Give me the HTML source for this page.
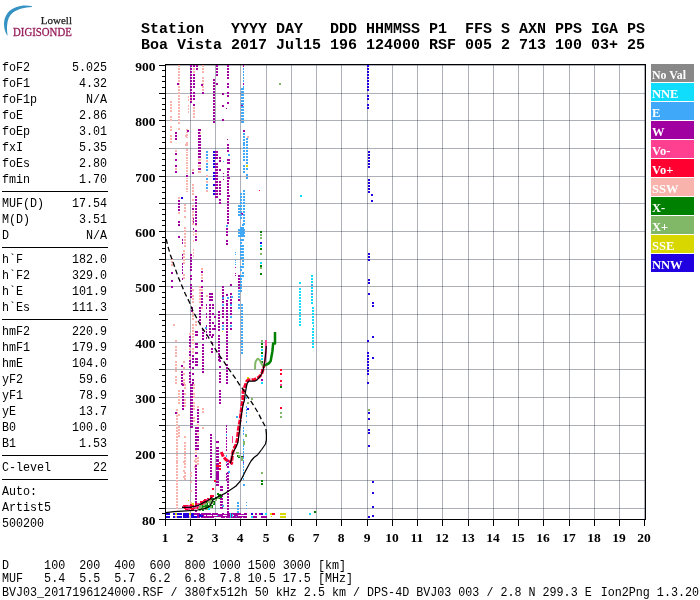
<!DOCTYPE html>
<html><head><meta charset="utf-8"><title>Ionogram BVJ03 2017196124000</title>
<style>
html,body{margin:0;padding:0;background:#fff;width:700px;height:600px;overflow:hidden}
svg{display:block}
text{white-space:pre}
.mono{font-family:"Liberation Mono",monospace;font-size:13px;fill:#000}
.hdr{font-family:"Liberation Mono",monospace;font-size:14px;font-weight:bold;fill:#000}
.ax{font-family:"Liberation Serif",serif;font-size:13.5px;font-weight:bold;fill:#000}
.leg{font-family:"Liberation Serif",serif;font-size:12.5px;font-weight:bold;fill:#fff}
</style></head><body>
<svg width="700" height="600" viewBox="0 0 700 600">
<rect width="700" height="600" fill="#fff"/>
<!-- logo -->
<path d="M31.8 6.1 C24 4.3 13.5 6 8 12.5 C4.6 16.5 3.7 21.5 4.1 26 C4.5 30 5.8 33.5 7.6 36 C7.2 33 6.8 29 7.1 25.3 C7.4 20 9.2 15.5 13 12.5 C18 8.7 25 7.2 31.8 6.9 Z" fill="#3592c2"/>
<text x="72" y="23.8" text-anchor="end" style="font-family:'Liberation Serif',serif;font-size:11px;fill:#222;stroke:#222;stroke-width:0.25">Lowell</text>
<text x="13" y="36.3" textLength="58.8" lengthAdjust="spacingAndGlyphs" style="font-family:'Liberation Serif',serif;font-size:11.5px;fill:#961e5c;stroke:#961e5c;stroke-width:0.3">DIGISONDE</text>
<!-- header -->
<text class="hdr" x="141" y="33" xml:space="preserve" textLength="504" lengthAdjust="spacingAndGlyphs">Station   YYYY DAY   DDD HHMMSS P1  FFS S AXN PPS IGA PS</text>
<text class="hdr" x="141" y="49" xml:space="preserve" textLength="504" lengthAdjust="spacingAndGlyphs">Boa Vista 2017 Jul15 196 124000 RSF 005 2 713 100 03+ 25</text>
<g class="mono">
<text x="2" y="71" textLength="28.1" lengthAdjust="spacingAndGlyphs">foF2</text>
<text x="107" y="71" text-anchor="end" textLength="35.1" lengthAdjust="spacingAndGlyphs">5.025</text>
<text x="2" y="87" textLength="28.1" lengthAdjust="spacingAndGlyphs">foF1</text>
<text x="107" y="87" text-anchor="end" textLength="28.1" lengthAdjust="spacingAndGlyphs">4.32</text>
<text x="2" y="103" textLength="35.1" lengthAdjust="spacingAndGlyphs">foF1p</text>
<text x="107" y="103" text-anchor="end" textLength="21.1" lengthAdjust="spacingAndGlyphs">N/A</text>
<text x="2" y="119" textLength="21.1" lengthAdjust="spacingAndGlyphs">foE</text>
<text x="107" y="119" text-anchor="end" textLength="28.1" lengthAdjust="spacingAndGlyphs">2.86</text>
<text x="2" y="135" textLength="28.1" lengthAdjust="spacingAndGlyphs">foEp</text>
<text x="107" y="135" text-anchor="end" textLength="28.1" lengthAdjust="spacingAndGlyphs">3.01</text>
<text x="2" y="151" textLength="21.1" lengthAdjust="spacingAndGlyphs">fxI</text>
<text x="107" y="151" text-anchor="end" textLength="28.1" lengthAdjust="spacingAndGlyphs">5.35</text>
<text x="2" y="167" textLength="28.1" lengthAdjust="spacingAndGlyphs">foEs</text>
<text x="107" y="167" text-anchor="end" textLength="28.1" lengthAdjust="spacingAndGlyphs">2.80</text>
<text x="2" y="183" textLength="28.1" lengthAdjust="spacingAndGlyphs">fmin</text>
<text x="107" y="183" text-anchor="end" textLength="28.1" lengthAdjust="spacingAndGlyphs">1.70</text>
<text x="2" y="207" textLength="42.1" lengthAdjust="spacingAndGlyphs">MUF(D)</text>
<text x="107" y="207" text-anchor="end" textLength="35.1" lengthAdjust="spacingAndGlyphs">17.54</text>
<text x="2" y="223" textLength="28.1" lengthAdjust="spacingAndGlyphs">M(D)</text>
<text x="107" y="223" text-anchor="end" textLength="28.1" lengthAdjust="spacingAndGlyphs">3.51</text>
<text x="2" y="239" textLength="7" lengthAdjust="spacingAndGlyphs">D</text>
<text x="107" y="239" text-anchor="end" textLength="21.1" lengthAdjust="spacingAndGlyphs">N/A</text>
<text x="2" y="263" textLength="21.1" lengthAdjust="spacingAndGlyphs">h`F</text>
<text x="107" y="263" text-anchor="end" textLength="35.1" lengthAdjust="spacingAndGlyphs">182.0</text>
<text x="2" y="279" textLength="28.1" lengthAdjust="spacingAndGlyphs">h`F2</text>
<text x="107" y="279" text-anchor="end" textLength="35.1" lengthAdjust="spacingAndGlyphs">329.0</text>
<text x="2" y="295" textLength="21.1" lengthAdjust="spacingAndGlyphs">h`E</text>
<text x="107" y="295" text-anchor="end" textLength="35.1" lengthAdjust="spacingAndGlyphs">101.9</text>
<text x="2" y="311" textLength="28.1" lengthAdjust="spacingAndGlyphs">h`Es</text>
<text x="107" y="311" text-anchor="end" textLength="35.1" lengthAdjust="spacingAndGlyphs">111.3</text>
<text x="2" y="335" textLength="28.1" lengthAdjust="spacingAndGlyphs">hmF2</text>
<text x="107" y="335" text-anchor="end" textLength="35.1" lengthAdjust="spacingAndGlyphs">220.9</text>
<text x="2" y="351" textLength="28.1" lengthAdjust="spacingAndGlyphs">hmF1</text>
<text x="107" y="351" text-anchor="end" textLength="35.1" lengthAdjust="spacingAndGlyphs">179.9</text>
<text x="2" y="367" textLength="21.1" lengthAdjust="spacingAndGlyphs">hmE</text>
<text x="107" y="367" text-anchor="end" textLength="35.1" lengthAdjust="spacingAndGlyphs">104.0</text>
<text x="2" y="383" textLength="21.1" lengthAdjust="spacingAndGlyphs">yF2</text>
<text x="107" y="383" text-anchor="end" textLength="28.1" lengthAdjust="spacingAndGlyphs">59.6</text>
<text x="2" y="399" textLength="21.1" lengthAdjust="spacingAndGlyphs">yF1</text>
<text x="107" y="399" text-anchor="end" textLength="28.1" lengthAdjust="spacingAndGlyphs">78.9</text>
<text x="2" y="415" textLength="14" lengthAdjust="spacingAndGlyphs">yE</text>
<text x="107" y="415" text-anchor="end" textLength="28.1" lengthAdjust="spacingAndGlyphs">13.7</text>
<text x="2" y="431" textLength="14" lengthAdjust="spacingAndGlyphs">B0</text>
<text x="107" y="431" text-anchor="end" textLength="35.1" lengthAdjust="spacingAndGlyphs">100.0</text>
<text x="2" y="447" textLength="14" lengthAdjust="spacingAndGlyphs">B1</text>
<text x="107" y="447" text-anchor="end" textLength="28.1" lengthAdjust="spacingAndGlyphs">1.53</text>
<text x="2" y="471" textLength="49.1" lengthAdjust="spacingAndGlyphs">C-level</text>
<text x="107" y="471" text-anchor="end" textLength="14" lengthAdjust="spacingAndGlyphs">22</text>
<text x="2" y="495" textLength="35.1" lengthAdjust="spacingAndGlyphs">Auto:</text>
<text x="2" y="511" textLength="49.1" lengthAdjust="spacingAndGlyphs">Artist5</text>
<text x="2" y="527" textLength="42.1" lengthAdjust="spacingAndGlyphs">500200</text>
<rect x="2" y="191" width="106" height="1" fill="#000"/>
<rect x="2" y="247" width="106" height="1" fill="#000"/>
<rect x="2" y="319" width="106" height="1" fill="#000"/>
<rect x="2" y="455" width="106" height="1" fill="#000"/>
<rect x="2" y="479" width="106" height="1" fill="#000"/>
<text x="2" y="569" xml:space="preserve" textLength="344" lengthAdjust="spacingAndGlyphs">D     100  200  400  600  800 1000 1500 3000 [km]</text>
<text x="2" y="582" xml:space="preserve" textLength="351" lengthAdjust="spacingAndGlyphs">MUF   5.4  5.5  5.7  6.2  6.8  7.8 10.5 17.5 [MHz]</text>
<text x="2" y="596" xml:space="preserve" textLength="589.7" lengthAdjust="spacingAndGlyphs">BVJ03_2017196124000.RSF / 380fx512h 50 kHz 2.5 km / DPS-4D BVJ03 003 / 2.8 N 299.3 E</text>
<text x="600.7" y="596" textLength="98.3" lengthAdjust="spacingAndGlyphs">Ion2Png 1.3.20</text>
</g>
<g shape-rendering="crispEdges">
<rect x="190" y="65" width="1" height="454" fill="#323750" fill-opacity="0.4"/>
<rect x="215" y="65" width="1" height="454" fill="#323750" fill-opacity="0.4"/>
<rect x="240" y="65" width="1" height="454" fill="#323750" fill-opacity="0.4"/>
<rect x="266" y="65" width="1" height="454" fill="#323750" fill-opacity="0.4"/>
<rect x="291" y="65" width="1" height="454" fill="#323750" fill-opacity="0.4"/>
<rect x="316" y="65" width="1" height="454" fill="#323750" fill-opacity="0.4"/>
<rect x="341" y="65" width="1" height="454" fill="#323750" fill-opacity="0.4"/>
<rect x="367" y="65" width="1" height="454" fill="#323750" fill-opacity="0.4"/>
<rect x="392" y="65" width="1" height="454" fill="#323750" fill-opacity="0.4"/>
<rect x="417" y="65" width="1" height="454" fill="#323750" fill-opacity="0.4"/>
<rect x="442" y="65" width="1" height="454" fill="#323750" fill-opacity="0.4"/>
<rect x="468" y="65" width="1" height="454" fill="#323750" fill-opacity="0.4"/>
<rect x="493" y="65" width="1" height="454" fill="#323750" fill-opacity="0.4"/>
<rect x="518" y="65" width="1" height="454" fill="#323750" fill-opacity="0.4"/>
<rect x="543" y="65" width="1" height="454" fill="#323750" fill-opacity="0.4"/>
<rect x="569" y="65" width="1" height="454" fill="#323750" fill-opacity="0.4"/>
<rect x="594" y="65" width="1" height="454" fill="#323750" fill-opacity="0.4"/>
<rect x="619" y="65" width="1" height="454" fill="#323750" fill-opacity="0.4"/>
<rect x="644" y="65" width="1" height="454" fill="#323750" fill-opacity="0.4"/>
<rect x="166" y="508" width="479" height="1" fill="#323750" fill-opacity="0.4"/>
<rect x="166" y="480" width="479" height="1" fill="#323750" fill-opacity="0.4"/>
<rect x="166" y="453" width="479" height="1" fill="#323750" fill-opacity="0.4"/>
<rect x="166" y="425" width="479" height="1" fill="#323750" fill-opacity="0.4"/>
<rect x="166" y="397" width="479" height="1" fill="#323750" fill-opacity="0.4"/>
<rect x="166" y="369" width="479" height="1" fill="#323750" fill-opacity="0.4"/>
<rect x="166" y="342" width="479" height="1" fill="#323750" fill-opacity="0.4"/>
<rect x="166" y="314" width="479" height="1" fill="#323750" fill-opacity="0.4"/>
<rect x="166" y="286" width="479" height="1" fill="#323750" fill-opacity="0.4"/>
<rect x="166" y="259" width="479" height="1" fill="#323750" fill-opacity="0.4"/>
<rect x="166" y="231" width="479" height="1" fill="#323750" fill-opacity="0.4"/>
<rect x="166" y="203" width="479" height="1" fill="#323750" fill-opacity="0.4"/>
<rect x="166" y="176" width="479" height="1" fill="#323750" fill-opacity="0.4"/>
<rect x="166" y="148" width="479" height="1" fill="#323750" fill-opacity="0.4"/>
<rect x="166" y="120" width="479" height="1" fill="#323750" fill-opacity="0.4"/>
<rect x="166" y="93" width="479" height="1" fill="#323750" fill-opacity="0.4"/>
<rect x="166" y="65" width="479" height="1" fill="#323750" fill-opacity="0.4"/>
</g>
<g shape-rendering="crispEdges">
<path fill="#f8b4ac" d="M178 65h2v2h-2zM178 68h2v2h-2zM178 71h2v2h-2zM178 74h2v2h-2zM178 77h2v2h-2zM178 80h2v2h-2zM178 83h2v2h-2zM178 86h2v2h-2zM178 89h2v2h-2zM178 92h2v2h-2zM178 95h2v2h-2zM178 98h2v2h-2zM178 101h2v2h-2zM178 104h2v2h-2zM178 107h2v2h-2zM178 110h2v2h-2zM178 113h2v2h-2zM178 116h2v2h-2zM178 119h2v2h-2zM178 122h2v2h-2zM178 128h2v2h-2zM170 101h2v2h-2zM170 104h2v2h-2zM170 107h2v2h-2zM170 110h2v2h-2zM170 116h2v2h-2zM170 119h2v2h-2zM170 126h2v2h-2zM170 129h2v2h-2zM170 135h2v2h-2zM170 138h2v2h-2zM170 141h2v2h-2zM193 68h2v2h-2zM193 71h2v2h-2zM193 107h2v2h-2zM193 110h2v2h-2zM193 113h2v2h-2zM193 116h2v2h-2zM188 96h1v2h-1zM188 99h1v2h-1zM188 105h1v2h-1zM188 108h1v2h-1zM188 111h1v2h-1zM186 129h1.5v1.5h-1.5zM186 131.6h1.5v1.5h-1.5zM186 134.2h1.5v1.5h-1.5zM186 136.8h1.5v1.5h-1.5zM186 142h1.5v1.5h-1.5zM190 96h2v2h-2zM190 99h2v2h-2zM202 65h2v2h-2zM202 68h2v2h-2zM202 71h2v2h-2zM202 77h2v2h-2zM202 80h2v2h-2zM202 83h2v2h-2zM202 86h2v2h-2zM202 89h2v2h-2zM247 136h2v2h-2zM185 135h2v2h-2zM185 144h2v2h-2zM198 135h2v2h-2zM175 150h2v2h-2zM175 168h2v2h-2zM186 144h1.5v1.5h-1.5zM186 149.2h1.5v1.5h-1.5zM186 151.8h1.5v1.5h-1.5zM186 154.4h1.5v1.5h-1.5zM186 157h1.5v1.5h-1.5zM186 159.6h1.5v1.5h-1.5zM186 162.2h1.5v1.5h-1.5zM186 164.8h1.5v1.5h-1.5zM186 167.4h1.5v1.5h-1.5zM186 170h1.5v1.5h-1.5zM186 172.6h1.5v1.5h-1.5zM186 177.8h1.5v1.5h-1.5zM186 180.4h1.5v1.5h-1.5zM186 183h1.5v1.5h-1.5zM186 185.6h1.5v1.5h-1.5zM186 188.2h1.5v1.5h-1.5zM186 190.8h1.5v1.5h-1.5zM198 132h2.5v2h-2.5zM198 159h2.5v2h-2.5zM198 165h2.5v2h-2.5zM198 171h2.5v2h-2.5zM206 160h2v2h-2zM206 175h2v2h-2zM206 181h2v2h-2zM206 190h2v2h-2zM192 169h2v2h-2zM192 184h2v2h-2zM192 187h2v2h-2zM192 190h2v2h-2zM192 193h2v2h-2zM192 199h2v2h-2zM192 205h2v2h-2zM192 211h2v2h-2zM192 214h2v2h-2zM192 217h2v2h-2zM192 220h2v2h-2zM192 223h2v2h-2zM178 197h2v2h-2zM178 212h2v2h-2zM178 224h2v2h-2zM184 204h2v2h-2zM184 207h2v2h-2zM184 210h2v2h-2zM184 216h2v2h-2zM184 227h2v2h-2zM184 230h2v2h-2zM184 233h2v2h-2zM184 236h2v2h-2zM184 239h2v2h-2zM184 242h2v2h-2zM184 245h2v2h-2zM195 224h2v2h-2zM195 233h2v2h-2zM193 231h1v2h-1zM193 234h1v2h-1zM193 240h1v2h-1zM193 249h1v2h-1zM193 252h1v2h-1zM193 255h1v2h-1zM183 250h2v2h-2zM183 253h2v2h-2zM183 256h2v2h-2zM183 259h2v2h-2zM183 262h2v2h-2zM183 274h2v2h-2zM183 277h2v2h-2zM192 289h2v2h-2zM192 295h2v2h-2zM192 298h2v2h-2zM192 301h2v2h-2zM171 258h2v2h-2zM171 261h2v2h-2zM171 264h2v2h-2zM201 268h2v2h-2zM201 274h2v2h-2zM201 277h2v2h-2zM201 289h2v2h-2zM199 286h2v2h-2zM199 289h2v2h-2zM199 292h2v2h-2zM199 295h2v2h-2zM199 298h2v2h-2zM199 301h2v2h-2zM206 295h2v2h-2zM173 324h2v2h-2zM175 340h2v2h-2zM175 346h2v2h-2zM175 349h2v2h-2zM175 352h2v2h-2zM175 355h2v2h-2zM175 361h2v2h-2zM175 364h2v2h-2zM175 367h2v2h-2zM175 370h2v2h-2zM175 376h2v2h-2zM175 379h2v2h-2zM175 382h2v2h-2zM183 361h2v2h-2zM183 367h2v2h-2zM183 373h2v2h-2zM183 379h2v2h-2zM183 382h2v2h-2zM189 333h2v2h-2zM189 336h2v2h-2zM189 339h2v2h-2zM189 342h2v2h-2zM189 345h2v2h-2zM189 348h2v2h-2zM189 351h2v2h-2zM189 354h2v2h-2zM189 357h2v2h-2zM189 360h2v2h-2zM189 363h2v2h-2zM189 366h2v2h-2zM189 372h2v2h-2zM192 312h2v2h-2zM192 315h2v2h-2zM192 318h2v2h-2zM192 324h2v2h-2zM192 327h2v2h-2zM192 330h2v2h-2zM192 333h2v2h-2zM192 336h2v2h-2zM192 339h2v2h-2zM192 342h2v2h-2zM192 348h2v2h-2zM192 351h2v2h-2zM195 321h2v2h-2zM195 324h2v2h-2zM201 304h2v2h-2zM201 307h2v2h-2zM178 390h2v2h-2zM178 393h2v2h-2zM178 396h2v2h-2zM178 399h2v2h-2zM178 402h2v2h-2zM178 414h2v2h-2zM178 426h2v2h-2zM178 429h2v2h-2zM178 432h2v2h-2zM178 435h2v2h-2zM175.5 409h2v2h-2zM175.5 412h2v2h-2zM175.5 415h2v2h-2zM175.5 418h2v2h-2zM175.5 421h2v2h-2zM175.5 424h2v2h-2zM175.5 427h2v2h-2zM175.5 430h2v2h-2zM175.5 433h2v2h-2zM175.5 436h2v2h-2zM175.5 439h2v2h-2zM175.5 442h2v2h-2zM175.5 445h2v2h-2zM175.5 448h2v2h-2zM175.5 451h2v2h-2zM175.5 454h2v2h-2zM175.5 457h2v2h-2zM175.5 460h2v2h-2zM184 384h2v2h-2zM184 387h2v2h-2zM184 393h2v2h-2zM184 399h2v2h-2zM184 402h2v2h-2zM184 405h2v2h-2zM183.5 436h2v2h-2zM183.5 442h2v2h-2zM183.5 445h2v2h-2zM183.5 448h2v2h-2zM183.5 451h2v2h-2zM183.5 454h2v2h-2zM183.5 457h2v2h-2zM183.5 460h2v2h-2zM183.5 463h2v2h-2zM183.5 466h2v2h-2zM183.5 472h2v2h-2zM183.5 475h2v2h-2zM183.5 478h2v2h-2zM193 384h2v2h-2zM193 387h2v2h-2zM193 393h2v2h-2zM193 396h2v2h-2zM193 402h2v2h-2zM193 405h2v2h-2zM193 408h2v2h-2zM193 417h2v2h-2zM193 420h2v2h-2zM197 406h2v2h-2zM197 409h2v2h-2zM197 421h2v2h-2zM197 424h2v2h-2zM197 433h2v2h-2zM197 436h2v2h-2zM197 442h2v2h-2zM197 445h2v2h-2zM197 448h2v2h-2zM197 457h2v2h-2zM197 460h2v2h-2zM197 463h2v2h-2zM195 449h2v2h-2zM195 452h2v2h-2zM195 458h2v2h-2zM195 461h2v2h-2zM195 464h2v2h-2zM202 408h2v2h-2zM202 411h2v2h-2zM202 427h2v2h-2zM175.5 462h2v2h-2zM175.5 465h2v2h-2zM175.5 468h2v2h-2zM175.5 471h2v2h-2zM175.5 474h2v2h-2zM175.5 477h2v2h-2zM175.5 480h2v2h-2zM175.5 483h2v2h-2zM175.5 486h2v2h-2zM175.5 489h2v2h-2zM175.5 492h2v2h-2zM175.5 495h2v2h-2zM175.5 498h2v2h-2zM175.5 501h2v2h-2zM175.5 504h2v2h-2zM175.5 507h2v2h-2zM183 461h2v2h-2zM183 470h2v2h-2zM183 476h2v2h-2zM190 472h2v2h-2zM190 475h2v2h-2zM190 481h2v2h-2zM190 490h2v2h-2zM190 502h2v2h-2zM190 508h2v2h-2zM194 460h2v2h-2zM194 466h2v2h-2zM175 516h2v2h-2zM189 516h2v2h-2z"/>
<path fill="#a000a0" d="M177 83h2v2h-2zM190 65h2v2h-2zM190 68h2v2h-2zM190 71h2v2h-2zM190 74h2v2h-2zM190 77h2v2h-2zM190 80h2v2h-2zM190 83h2v2h-2zM190 86h2v2h-2zM190 89h2v2h-2zM190 92h2v2h-2zM190 95h2v2h-2zM190 98h2v2h-2zM190 101h2v2h-2zM193 65h2v2h-2zM193 74h2v2h-2zM193 77h2v2h-2zM193 80h2v2h-2zM193 83h2v2h-2zM193 86h2v2h-2zM193 92h2v2h-2zM193 95h2v2h-2zM193 98h2v2h-2zM193 104h2v2h-2zM196 65h2v2h-2zM196 68h2v2h-2zM202 92h2v2h-2zM201 84h2v2h-2zM213 79h2v2h-2zM213 82h2v2h-2zM213 85h2v2h-2zM213 88h2v2h-2zM213 91h2v2h-2zM213 94h2v2h-2zM213 97h2v2h-2zM213 100h2v2h-2zM213 103h2v2h-2zM213 106h2v2h-2zM213 109h2v2h-2zM213 112h2v2h-2zM213 115h2v2h-2zM213 118h2v2h-2zM213 121h2v2h-2zM216 65h2v2h-2zM216 68h2v2h-2zM216 71h2v2h-2zM216 74h2v2h-2zM216 83h2v2h-2zM227 65h2v2h-2zM227 68h2v2h-2zM227 71h2v2h-2zM227 74h2v2h-2zM227 77h2v2h-2zM227 83h2v2h-2zM227 86h2v2h-2zM227 92h2v2h-2zM227 95h2v2h-2zM227 102h2v2h-2zM222 93h2v2h-2zM222 105h2v2h-2zM222 119h2v2h-2zM226 108h1v1h-1zM227 139h1v1h-1zM243 65h1.2v2h-1.2zM243 83h1.2v2h-1.2zM241 104h2v2h-2zM243 130h2v2h-2zM175 132h2v2h-2zM175 135h2v2h-2zM175 138h2v2h-2zM187 130h2v2h-2zM198 129h2v2h-2zM198 132h2v2h-2zM198 138h2v2h-2zM198 141h2v2h-2zM198 144h2v2h-2zM175 153h2v2h-2zM175 159h2v2h-2zM175 165h2v2h-2zM175 171h2v2h-2zM186 175.2h1.5v1.5h-1.5zM198 129h2.5v2h-2.5zM198 135h2.5v2h-2.5zM198 138h2.5v2h-2.5zM198 141h2.5v2h-2.5zM198 144h2.5v2h-2.5zM198 147h2.5v2h-2.5zM198 150h2.5v2h-2.5zM198 153h2.5v2h-2.5zM198 156h2.5v2h-2.5zM198 162h2.5v2h-2.5zM198 168h2.5v2h-2.5zM192 172h2v2h-2zM192 208h2v2h-2zM215 151h2.5v2h-2.5zM215 154h2.5v2h-2.5zM215 157h2.5v2h-2.5zM215 163h2.5v2h-2.5zM215 166h2.5v2h-2.5zM215 169h2.5v2h-2.5zM215 172h2.5v2h-2.5zM215 175h2.5v2h-2.5zM215 178h2.5v2h-2.5zM215 181h2.5v2h-2.5zM215 184h2.5v2h-2.5zM215 187h2.5v2h-2.5zM215 190h2.5v2h-2.5zM215 193h2.5v2h-2.5zM215 196h2.5v2h-2.5zM219 157h2v2h-2zM219 160h2v2h-2zM219 169h2v2h-2zM219 181h2v2h-2zM219 184h2v2h-2zM219 187h2v2h-2zM219 190h2v2h-2zM219 193h2v2h-2zM219 199h2v2h-2zM219 202h2v2h-2zM223 161h1v1h-1zM223 173h1v1h-1zM223 176h1v1h-1zM223 179h1v1h-1zM227 144h2v2h-2zM227 147h2v2h-2zM227 150h2v2h-2zM227 159h2v2h-2zM227 162h2v2h-2zM227 168h2v2h-2zM227 171h2v2h-2zM227 174h2v2h-2zM227 177h2v2h-2zM227 180h2v2h-2zM227 183h2v2h-2zM227 186h2v2h-2zM227 189h2v2h-2zM227 192h2v2h-2zM227 195h2v2h-2zM227 198h2v2h-2zM227 201h2v2h-2zM227 204h2v2h-2zM227 207h2v2h-2zM227 210h2v2h-2zM227 213h2v2h-2zM227 216h2v2h-2zM227 219h2v2h-2zM227 222h2v2h-2zM229 159h1v2h-1zM229 162h1v2h-1zM229 168h1v2h-1zM229 177h1v2h-1zM229 195h1v2h-1zM178 200h2v2h-2zM178 203h2v2h-2zM178 206h2v2h-2zM178 209h2v2h-2zM178 221h2v2h-2zM195 196h2v2h-2zM195 199h2v2h-2zM195 202h2v2h-2zM195 205h2v2h-2zM195 208h2v2h-2zM195 211h2v2h-2zM195 214h2v2h-2zM195 217h2v2h-2zM195 220h2v2h-2zM195 223h2v2h-2zM193 218h1v2h-1zM193 221h1v2h-1zM241 213h2v2h-2zM178 224h2v2h-2zM178 236h2v2h-2zM195 230h2v2h-2zM195 236h2v2h-2zM195 239h2v2h-2zM193 228h1v2h-1zM182 239h1v2h-1zM182 242h1v2h-1zM182 254h1v2h-1zM182 257h1v2h-1zM182 263h1v2h-1zM182 266h1v2h-1zM182 269h1v2h-1zM182 272h1v2h-1zM182 278h1v2h-1zM190 254h2v2h-2zM190 257h2v2h-2zM190 260h2v2h-2zM190 263h2v2h-2zM190 266h2v2h-2zM190 269h2v2h-2zM190 275h2v2h-2zM190 278h2v2h-2zM190 284h2v2h-2zM190 287h2v2h-2zM190 290h2v2h-2zM190 293h2v2h-2zM190 296h2v2h-2zM171 272h2v2h-2zM171 280h2v2h-2zM171 286h2v2h-2zM201 271h2v2h-2zM201 280h2v2h-2zM201 286h2v2h-2zM201 292h2v2h-2zM201 295h2v2h-2zM201 298h2v2h-2zM201 301h2v2h-2zM201 304h2v2h-2zM209 293h3.5v2h-3.5zM209 296h3.5v2h-3.5zM209 299h3.5v2h-3.5zM226 225h2v2h-2zM226 228h2v2h-2zM226 231h2v2h-2zM226 234h2v2h-2zM226 240h2v2h-2zM226 243h2v2h-2zM235 267h1v1h-1zM235 273h1v1h-1zM235 275h1v1h-1zM222 286h2v2h-2zM222 289h2v2h-2zM222 292h2v2h-2zM222 295h2v2h-2zM222 298h2v2h-2zM222 301h2v2h-2zM226 294h2v2h-2zM226 300h2v2h-2zM226 303h2v2h-2zM230 284h2v2h-2zM230 293h2v2h-2zM230 296h2v2h-2zM230 299h2v2h-2zM230 302h2v2h-2zM237.5 275h2v2h-2zM237.5 278h2v2h-2zM237.5 281h2v2h-2zM237.5 284h2v2h-2zM237.5 287h2v2h-2zM237.5 299h2v2h-2zM181 365h2v2h-2zM181 371h2v2h-2zM181 374h2v2h-2zM181 377h2v2h-2zM181 380h2v2h-2zM181 383h2v2h-2zM189 336h2v2h-2zM189 339h2v2h-2zM189 342h2v2h-2zM189 345h2v2h-2zM189 351h2v2h-2zM189 354h2v2h-2zM189 360h2v2h-2zM189 363h2v2h-2zM189 366h2v2h-2zM189 372h2v2h-2zM189 375h2v2h-2zM189 378h2v2h-2zM189 381h2v2h-2zM191 307h2v2h-2zM191 310h2v2h-2zM192 355h2v2h-2zM192 358h2v2h-2zM192 361h2v2h-2zM192 367h2v2h-2zM192 373h2v2h-2zM192 379h2v2h-2zM192 382h2v2h-2zM195 331h2.5v2h-2.5zM195 334h2.5v2h-2.5zM195 343h2.5v2h-2.5zM195 346h2.5v2h-2.5zM195 352h2.5v2h-2.5zM195 358h2.5v2h-2.5zM195 361h2.5v2h-2.5zM195 364h2.5v2h-2.5zM199 307h2v2h-2zM199 310h2v2h-2zM199 313h2v2h-2zM199 316h2v2h-2zM199 319h2v2h-2zM199 322h2v2h-2zM202 329h2v2h-2zM202 332h2v2h-2zM202 335h2v2h-2zM202 338h2v2h-2zM202 344h2v2h-2zM202 347h2v2h-2zM202 350h2v2h-2zM202 353h2v2h-2zM202 356h2v2h-2zM202 359h2v2h-2zM202 362h2v2h-2zM202 365h2v2h-2zM202 368h2v2h-2zM202 371h2v2h-2zM206 304h1v2h-1zM206 307h1v2h-1zM206 313h1v2h-1zM206 316h1v2h-1zM206 325h1v2h-1zM206 328h1v2h-1zM206 331h1v2h-1zM206 334h1v2h-1zM206 337h1v2h-1zM209 304h2v2h-2zM209 307h2v2h-2zM209 310h2v2h-2zM209 313h2v2h-2zM209 316h2v2h-2zM209 319h2v2h-2zM209 322h2v2h-2zM209 325h2v2h-2zM209 328h2v2h-2zM209 331h2v2h-2zM209 334h2v2h-2zM211.5 304h2v2h-2zM211.5 307h2v2h-2zM211.5 313h2v2h-2zM211.5 322h2v2h-2zM211.5 328h2v2h-2zM211.5 334h2v2h-2zM214 316h1.5v2h-1.5zM214 325h1.5v2h-1.5zM214 328h1.5v2h-1.5zM211 336h1.5v2h-1.5zM211 342h1.5v2h-1.5zM211 348h1.5v2h-1.5zM211 351h1.5v2h-1.5zM218 311h1.5v2h-1.5zM218 314h1.5v2h-1.5zM218 317h1.5v2h-1.5zM218 320h1.5v2h-1.5zM218 323h1.5v2h-1.5zM218 326h1.5v2h-1.5zM218 329h1.5v2h-1.5zM218 335h1.5v2h-1.5zM218 338h1.5v2h-1.5zM218 341h1.5v2h-1.5zM218 344h1.5v2h-1.5zM218 347h1.5v2h-1.5zM218 350h1.5v2h-1.5zM218 353h1.5v2h-1.5zM218 356h1.5v2h-1.5zM218 359h1.5v2h-1.5zM219 357h2v2h-2zM219 360h2v2h-2zM219 366h2v2h-2zM219 372h2v2h-2zM219 375h2v2h-2zM219 378h2v2h-2zM219 381h2v2h-2zM222 307h2v2h-2zM222 310h2v2h-2zM222 313h2v2h-2zM222 316h2v2h-2zM222 322h2v2h-2zM226 304h2v2h-2zM226 307h2v2h-2zM226 310h2v2h-2zM226 313h2v2h-2zM226 316h2v2h-2zM226 319h2v2h-2zM226 322h2v2h-2zM226 325h2v2h-2zM226 328h2v2h-2zM226 331h2v2h-2zM226 334h2v2h-2zM226 337h2v2h-2zM226 340h2v2h-2zM226 343h2v2h-2zM226 346h2v2h-2zM226 349h2v2h-2zM226 352h2v2h-2zM226 355h2v2h-2zM226 358h2v2h-2zM226 364h2v2h-2zM226 367h2v2h-2zM226 370h2v2h-2zM226 373h2v2h-2zM226 376h2v2h-2zM226 379h2v2h-2zM226 382h2v2h-2zM230 307h2v2h-2zM230 310h2v2h-2zM230 313h2v2h-2zM230 322h2v2h-2zM230 328h2v2h-2zM261 369h2v2h-2zM261 379h2v2h-2zM175 412h2v2h-2zM182 384h2v2h-2zM182 390h2v2h-2zM182 393h2v2h-2zM182 396h2v2h-2zM182 399h2v2h-2zM182 402h2v2h-2zM182 405h2v2h-2zM182 408h2v2h-2zM190 384h2.5v2h-2.5zM190 387h2.5v2h-2.5zM190 390h2.5v2h-2.5zM190 393h2.5v2h-2.5zM190 396h2.5v2h-2.5zM190 399h2.5v2h-2.5zM190 402h2.5v2h-2.5zM190 405h2.5v2h-2.5zM190 408h2.5v2h-2.5zM190 411h2.5v2h-2.5zM190 414h2.5v2h-2.5zM190 417h2.5v2h-2.5zM190 420h2.5v2h-2.5zM190 423h2.5v2h-2.5zM190 426h2.5v2h-2.5zM197 409h2v2h-2zM197 412h2v2h-2zM197 415h2v2h-2zM197 418h2v2h-2zM197 421h2v2h-2zM197 427h2v2h-2zM197 430h2v2h-2zM197 436h2v2h-2zM197 439h2v2h-2zM197 445h2v2h-2zM197 448h2v2h-2zM195 427h2v2h-2zM195 430h2v2h-2zM195 433h2v2h-2zM195 436h2v2h-2zM195 439h2v2h-2zM195 442h2v2h-2zM195 445h2v2h-2zM195 448h2v2h-2zM195 455h2v2h-2zM210 434h2v2h-2zM210 437h2v2h-2zM210 440h2v2h-2zM210 443h2v2h-2zM210 446h2v2h-2zM210 449h2v2h-2zM210 452h2v2h-2zM210 455h2v2h-2zM210 458h2v2h-2zM210 461h2v2h-2zM210 464h2v2h-2zM210 467h2v2h-2zM210 470h2v2h-2zM210 473h2v2h-2zM210 476h2v2h-2zM219 390h1.5v2h-1.5zM219 393h1.5v2h-1.5zM219 396h1.5v2h-1.5zM219 399h1.5v2h-1.5zM219 402h1.5v2h-1.5zM216 441h3v2h-3zM216 447h3v2h-3zM216 450h3v2h-3zM216 453h3v2h-3zM216 456h3v2h-3zM216 459h3v2h-3zM216 468h3v2h-3zM216 471h3v2h-3zM216 474h3v2h-3zM216 477h3v2h-3zM226 425h1v2h-1zM226 428h1v2h-1zM226 431h1v2h-1zM226 437h1v2h-1zM226 440h1v2h-1zM226 443h1v2h-1zM226 446h1v2h-1zM226 449h1v2h-1zM226 464h1v2h-1zM226 473h1v2h-1zM226 476h1v2h-1zM226 479h1v2h-1zM227 472h2v2h-2zM227 475h2v2h-2zM227 478h2v2h-2zM243 456h1v2h-1zM243 462h1v2h-1zM195 465h2v2h-2zM195 468h2v2h-2zM195 471h2v2h-2zM195 474h2v2h-2zM195 477h2v2h-2zM195 480h2v2h-2zM195 483h2v2h-2zM195 486h2v2h-2zM195 489h2v2h-2zM195 492h2v2h-2zM195 495h2v2h-2zM195 498h2v2h-2zM195 501h2v2h-2zM195 504h2v2h-2zM195 507h2v2h-2zM195 510h2v2h-2zM216 460h2.5v2h-2.5zM216 463h2.5v2h-2.5zM216 466h2.5v2h-2.5zM216 472h2.5v2h-2.5zM216 475h2.5v2h-2.5zM216 478h2.5v2h-2.5zM216 481h2.5v2h-2.5zM216 484h2.5v2h-2.5zM220 486h3v2h-3zM220 489h3v2h-3zM220 495h3v2h-3zM220 498h3v2h-3zM220 501h3v2h-3zM220 504h3v2h-3zM220 507h3v2h-3zM227 460h2v2h-2zM227 463h2v2h-2zM227 466h2v2h-2zM227 472h2v2h-2zM227 475h2v2h-2zM227 478h2v2h-2zM227 481h2v2h-2zM227 484h2v2h-2zM227 487h2v2h-2zM227 490h2v2h-2zM227 493h2v2h-2zM227 496h2v2h-2zM227 499h2v2h-2zM227 502h2v2h-2zM227 505h2v2h-2zM227 508h2v2h-2zM227 511h2v2h-2zM194 513h3v2h-3zM197 513h3v5h-3zM201 513h46v5h-46zM253 516h2v2h-2zM255 513h2v2h-2zM255 516h2v2h-2zM259 513h2v2h-2zM261 516h2v2h-2zM263 516h2v2h-2zM265 516h2v2h-2z"/>
<path fill="#40a8f8" d="M243 68h1.2v2h-1.2zM243 71h1.2v2h-1.2zM243 74h1.2v2h-1.2zM243 77h1.2v2h-1.2zM243 80h1.2v2h-1.2zM243 86h1.2v2h-1.2zM241 88h2.5v2h-2.5zM241 91h2.5v2h-2.5zM241 94h2.5v2h-2.5zM241 97h2.5v2h-2.5zM241 100h2.5v2h-2.5zM241 103h2.5v2h-2.5zM241 106h2.5v2h-2.5zM241 109h2.5v2h-2.5zM241 112h2.5v2h-2.5zM241 115h2.5v2h-2.5zM241 118h2.5v2h-2.5zM241 121h2.5v2h-2.5zM243 133h2v2h-2zM243 136h2v2h-2zM243 139h2v2h-2zM243 142h2v2h-2zM246 138h2v2h-2zM246 141h2v2h-2zM246 144h2v2h-2zM206 151h2v2h-2zM206 154h2v2h-2zM206 157h2v2h-2zM206 163h2v2h-2zM206 166h2v2h-2zM206 169h2v2h-2zM206 178h2v2h-2zM206 184h2v2h-2zM206 187h2v2h-2zM228 154h2v2h-2zM223 161h1v1h-1zM238 205h2v2h-2zM238 208h2v2h-2zM238 211h2v2h-2zM238 214h2v2h-2zM240 193h2v2h-2zM240 196h2v2h-2zM240 199h2v2h-2zM240 202h2v2h-2zM240 205h2v2h-2zM240 208h2v2h-2zM240 211h2v2h-2zM240 214h2v2h-2zM240 217h2v2h-2zM243 144h2v2h-2zM243 147h2v2h-2zM243 150h2v2h-2zM243 153h2v2h-2zM243 156h2v2h-2zM243 159h2v2h-2zM243 165h2v2h-2zM243 168h2v2h-2zM243 171h2v2h-2zM243 190h2v2h-2zM243 193h2v2h-2zM243 196h2v2h-2zM243 199h2v2h-2zM243 202h2v2h-2zM243 205h2v2h-2zM243 208h2v2h-2zM243 211h2v2h-2zM243 214h2v2h-2zM243 217h2v2h-2zM243 220h2v2h-2zM243 223h2v2h-2zM246 144h2v2h-2zM246 147h2v2h-2zM246 150h2v2h-2zM246 153h2v2h-2zM246 156h2v2h-2zM246 159h2v2h-2zM246 162h2v2h-2zM246 168h2v2h-2zM246 174h2v2h-2zM246 177h2v2h-2zM226 225h2v2h-2zM238 229h7v2h-7zM238 232h7v2h-7zM238 235h7v2h-7zM239.5 227h2v2h-2zM239.5 230h2v2h-2zM239.5 233h2v2h-2zM239.5 239h2v2h-2zM239.5 242h2v2h-2zM239.5 245h2v2h-2zM239.5 248h2v2h-2zM239.5 251h2v2h-2zM239.5 254h2v2h-2zM239.5 257h2v2h-2zM239.5 266h2v2h-2zM239.5 269h2v2h-2zM239.5 275h2v2h-2zM239.5 278h2v2h-2zM239.5 281h2v2h-2zM239.5 284h2v2h-2zM239.5 287h2v2h-2zM239.5 290h2v2h-2zM242 224h2v2h-2zM242 227h2v2h-2zM242 230h2v2h-2zM242 233h2v2h-2zM242 239h2v2h-2zM242 245h2v2h-2zM242 248h2v2h-2zM242 251h2v2h-2zM242 254h2v2h-2zM242 257h2v2h-2zM242 260h2v2h-2zM242 263h2v2h-2zM242 266h2v2h-2zM242 272h2v2h-2zM242 275h2v2h-2zM235 252h1v1h-1zM235 254h1v1h-1zM235 260h1v1h-1zM235 262h1v1h-1zM235 264h1v1h-1zM222 297h2v2h-2zM227 297h2v2h-2zM231 296h2v2h-2zM237.5 290h2v2h-2zM237.5 293h2v2h-2zM237.5 296h2v2h-2zM310.5 284h2v2h-2zM310.5 293h2v2h-2zM205 327h2v2h-2zM222 304h2v2h-2zM222 325h2v2h-2zM222 328h2v2h-2zM230 304h2v2h-2zM230 316h2v2h-2zM230 325h2v2h-2zM238 304h2v2h-2zM238 307h2v2h-2zM241 304h2v2h-2zM241 307h2v2h-2zM241 310h2v2h-2zM241 313h2v2h-2zM241 316h2v2h-2zM241 319h2v2h-2zM241 322h2v2h-2zM241 325h2v2h-2zM241 328h2v2h-2zM241 331h2v2h-2zM241 334h2v2h-2zM241 337h2v2h-2zM241 340h2v2h-2zM241 343h2v2h-2zM241 346h2v2h-2zM241 349h2v2h-2zM241 352h2v2h-2zM226 434h1v2h-1zM226 455h1v2h-1zM226 461h1v2h-1zM243 427h1.2v2h-1.2zM243 430h1.2v2h-1.2zM243 433h1.2v2h-1.2zM243 439h1.2v2h-1.2zM243 445h1.2v2h-1.2zM243 448h1.2v2h-1.2zM243 451h1.2v2h-1.2zM243 454h1.2v2h-1.2zM243 457h1.2v2h-1.2zM243 460h1.2v2h-1.2zM243 466h1.2v2h-1.2zM243 469h1.2v2h-1.2zM243 472h1.2v2h-1.2zM243 475h1.2v2h-1.2zM243 478h1.2v2h-1.2zM236 416h2v2h-2zM243 433h1.2v2h-1.2zM243 442h1.2v2h-1.2zM243 454h1.2v2h-1.2zM243 463h1.2v2h-1.2zM246 397h1.2v2h-1.2zM246 406h1.2v2h-1.2zM246 409h1.2v2h-1.2zM246 412h1.2v2h-1.2zM246 415h1.2v2h-1.2zM246 421h1.2v2h-1.2zM236 416h2v2h-2zM228 471h2v2h-2zM222 505h2v2h-2zM237 502h2v2h-2zM237 505h2v2h-2zM237 508h2v2h-2zM237 511h2v2h-2zM243 463h1.2v2h-1.2zM243 466h1.2v2h-1.2zM243 469h1.2v2h-1.2zM243 472h1.2v2h-1.2zM243 475h1.2v2h-1.2zM243 478h1.2v2h-1.2zM243 484h2v2h-2zM246 502h1v1h-1zM246 505h1v1h-1zM246 508h1v1h-1zM236 516h1v1h-1z"/>
<path fill="#10dcfc" d="M300 195h2v2h-2zM260 245h2v2h-2zM260 262h2v2h-2zM299 282h2v2h-2zM299 288h2v2h-2zM299 291h2v2h-2zM299 294h2v2h-2zM299 297h2v2h-2zM299 300h2v2h-2zM299 303h2v2h-2zM310.5 275h2v2h-2zM310.5 278h2v2h-2zM310.5 281h2v2h-2zM310.5 287h2v2h-2zM310.5 290h2v2h-2zM310.5 296h2v2h-2zM310.5 299h2v2h-2zM310.5 302h2v2h-2zM299 306h2v2h-2zM299 309h2v2h-2zM299 312h2v2h-2zM299 315h2v2h-2zM299 318h2v2h-2zM299 321h2v2h-2zM299 324h2v2h-2zM311.5 307h2v2h-2zM311.5 310h2v2h-2zM311.5 313h2v2h-2zM311.5 316h2v2h-2zM311.5 319h2v2h-2zM311.5 322h2v2h-2zM311.5 328h2v2h-2zM311.5 331h2v2h-2zM311.5 334h2v2h-2zM311.5 337h2v2h-2zM311.5 340h2v2h-2zM311.5 343h2v2h-2zM311.5 346h2v2h-2zM313 313h1v2h-1zM313 325h1v2h-1zM260.5 349h2v2h-2zM260.5 355h2v2h-2zM260.5 358h2v2h-2zM261 382h2v2h-2zM208 508h2v2h-2zM219 494h2v2h-2zM201 505h2v2h-2zM211 499h2v2h-2zM217 493h2v2h-2zM210 500h2v2h-2zM201 506h2v2h-2zM204 503h2v2h-2zM203 503h2v2h-2zM230 513h1v5h-1zM232 514h1v3h-1zM217 515h1v1h-1zM251 516h2v2h-2zM265 513h2v2h-2zM309 513h2v2h-2z"/>
<path fill="#2000e0" d="M213 151h2v2h-2zM213 154h2v2h-2zM213 157h2v2h-2zM213 160h2v2h-2zM213 163h2v2h-2zM213 166h2v2h-2zM213 172h2v2h-2zM213 175h2v2h-2zM213 178h2v2h-2zM213 184h2v2h-2zM213 190h2v2h-2zM213 193h2v2h-2zM181 197h2v2h-2zM260 242h2v2h-2zM247 408h2v2h-2zM232 440h1v1h-1zM242 458h1v1h-1zM166 513h4v2h-4zM166 516h4v2h-4zM173 513h2v2h-2zM173 516h2v2h-2zM177 513h5v2h-5zM177 516h5v2h-5zM183 513h6v2h-6zM183 516h6v2h-6zM183 515h6v1h-6zM191 513h3v5h-3zM194 516h3v2h-3zM199 514h2v3h-2zM201 515h2v2h-2zM251 513h2v2h-2zM261 513h2v2h-2zM367 65h2v2h-2zM367 68h2v2h-2zM367 71h2v2h-2zM367 74h2v2h-2zM367 77h2v2h-2zM367 80h2v2h-2zM367 83h2v2h-2zM367 86h2v2h-2zM367 89h2v2h-2zM367 95h2v2h-2zM367 98h2v2h-2zM367 104h2v2h-2zM367 107h2v2h-2zM368 151h2v2h-2zM368 154h2v2h-2zM368 157h2v2h-2zM368 160h2v2h-2zM368 163h2v2h-2zM368 166h2v2h-2zM368 179h2v2h-2zM368 182h2v2h-2zM368 185h2v2h-2zM368 188h2v2h-2zM368 191h2v2h-2zM371 194h2v2h-2zM371 200h2v2h-2zM368 253h2v2h-2zM368 256h2v2h-2zM368 259h2v2h-2zM368 279h2v2h-2zM368 282h2v2h-2zM368 293h2v2h-2zM372 302h2v2h-2zM372 302h2v2h-2zM372 305h2v2h-2zM372 336h2v2h-2zM372 357h2v2h-2zM367 340h2v2h-2zM367 352h2v2h-2zM367 355h2v2h-2zM367 358h2v2h-2zM367 361h2v2h-2zM367 364h2v2h-2zM367 367h2v2h-2zM367 370h2v2h-2zM367 373h2v2h-2zM367 382h2v2h-2zM368 412h2v2h-2zM368 418h2v2h-2zM368 429h2v2h-2zM368 432h2v2h-2zM368 445h2v2h-2zM372 481h2v2h-2zM372 492h2v2h-2zM372 506h2v2h-2zM372 515h2v2h-2zM368 516h2v2h-2z"/>
<path fill="#ff0030" d="M259 190h1v1h-1zM280 369h2v2h-2zM280 373h2v2h-2zM280 380h2v2h-2zM280 407h2v2h-2zM216 465h3v2h-3zM219 462h2v2h-2zM219 465h2v2h-2zM219 468h2v2h-2zM214 480h2v2h-2zM212 488h2v2h-2zM210 495h2v2h-2zM196 505h2v2h-2zM196 507h2v2h-2zM206 499h2v2h-2zM186 507h2v2h-2zM200 503h2v2h-2zM202 503h2v2h-2zM201 504h2v2h-2zM184 505h2v2h-2zM200 505h2v2h-2zM189 505h2v2h-2zM202 502h2v2h-2zM194 506h2v2h-2zM203 501h2v2h-2zM205 500h2v2h-2zM194 507h2v2h-2zM188 508h2v2h-2zM196 507h2v2h-2zM195 506h2v2h-2zM205 500h2v2h-2zM191 504h2v2h-2zM205 499h2v2h-2zM203 500h2v2h-2zM188 506h2v2h-2zM195 505h2v2h-2zM195 504h2v2h-2zM191 508h2v2h-2zM201 501h2v2h-2zM192 505h2v2h-2zM184 505h2v2h-2zM196 507h2v2h-2zM207 498h2v2h-2zM187 505h2v2h-2zM207 499h2v2h-2zM188 508h2v2h-2zM200 503h2v2h-2zM185 506h2v2h-2zM189 507h2v2h-2zM195 507h2v2h-2zM191 505h2v2h-2zM200 502h2v2h-2zM204 499h2v2h-2zM195 503h2v2h-2zM190 506h2v2h-2zM185 505h2v2h-2zM200 502h2v2h-2zM210 498h2v2h-2zM203 504h2v2h-2zM200 502h2v2h-2zM204 501h2v2h-2zM184 507h2v2h-2zM209 500h2v2h-2zM206 502h2v2h-2zM185 506h2v2h-2zM208 499h2v2h-2zM202 502h2v2h-2zM200 501h2v2h-2zM212 498h2v2h-2zM185 507h2v2h-2zM191 504h2v2h-2zM189 507h2v2h-2zM205 501h2v2h-2zM190 504h2v2h-2zM187 508h2v2h-2zM197 504h2v2h-2zM202 501h2v2h-2zM206 501h2v2h-2zM210 497h2v2h-2zM197 506h2v2h-2zM203 504h2v2h-2zM207 498h2v2h-2zM190 505h2v2h-2zM193 506h2v2h-2zM196 503h2v2h-2zM190 507h2v2h-2zM183 505h2v2h-2zM188 507h2v2h-2zM189 505h2v2h-2zM212 495h2v2h-2zM201 504h2v2h-2zM211 498h2v2h-2zM207 499h2v2h-2zM205 501h2v2h-2zM187 505h2v2h-2zM200 504h2v2h-2zM207 501h2v2h-2zM185 508h2v2h-2zM186 506h2v2h-2zM206 502h2v2h-2zM192 508h2v2h-2zM204 503h2v2h-2zM272 513h2v2h-2zM273 513h2v2h-2z"/>
<path fill="#ff4090" d="M280 384h2v2h-2zM232 436h1v1h-1zM232 437h1v1h-1zM232 438h1v1h-1zM232 439h1v1h-1zM232 440h1v1h-1zM232 441h1v1h-1zM232 442h1v1h-1zM188 506h2v2h-2zM195 507h2v2h-2zM197 503h2v2h-2zM206 499h2v2h-2zM208 501h2v2h-2zM188 508h2v2h-2zM188 505h2v2h-2zM182 506h2v2h-2zM187 507h2v2h-2zM186 506h2v2h-2zM211 497h2v2h-2zM208 500h2v2h-2zM194 506h2v2h-2zM196 505h2v2h-2zM186 507h2v2h-2zM208 499h2v2h-2zM203 503h2v2h-2zM199 503h2v2h-2zM198 506h2v2h-2zM193 506h2v2h-2z"/>
<path fill="#008000" d="M260 231h2v2h-2zM260 248h2v2h-2zM260 265h2v2h-2zM260 273h2v2h-2zM260.5 343h2v2h-2zM260.5 346h2v2h-2zM260.5 352h2v2h-2zM260.5 361h2v2h-2zM280 386h2v2h-2zM238 456h2v2h-2zM241 456h2v2h-2zM237 455h2v2h-2zM261 480h2v2h-2zM261 483h2v2h-2zM314 511h2v2h-2zM202 509h2v2h-2zM219 494h2v2h-2zM203 507h2v2h-2zM205 505h2v2h-2zM208 501h2v2h-2zM205 507h2v2h-2zM209 504h2v2h-2zM206 502h2v2h-2zM211 499h2v2h-2zM200 505h2v2h-2zM203 506h2v2h-2zM211 506h2v2h-2zM213 503h2v2h-2zM204 507h2v2h-2zM207 505h2v2h-2zM211 505h2v2h-2zM218 495h2v2h-2zM218 494h2v2h-2zM217 493h2v2h-2zM217 493h2v2h-2zM209 505h2v2h-2zM206 506h2v2h-2zM199 508h2v2h-2zM218 497h2v2h-2zM213 501h2v2h-2zM209 505h2v2h-2zM215 497h2v2h-2zM218 495h2v2h-2zM201 505h2v2h-2zM220 496h2v2h-2zM208 506h2v2h-2zM206 504h2v2h-2zM207 505h2v2h-2zM212 498h2v2h-2zM201 507h2v2h-2zM220 495h2v2h-2z"/>
<path fill="#80b868" d="M279 83h2v2h-2zM260 234h2v2h-2zM260 237h2v2h-2zM260 253h2v2h-2zM260 267h2v2h-2zM260.5 340h2v2h-2zM280 412h2v2h-2zM280 416h2v2h-2zM247 402h2v2h-2zM251 398h2v2h-2zM245 434h2v2h-2zM243 441h2v2h-2zM243 443h2v2h-2zM237 452h2v2h-2zM241 458h2v2h-2zM245 435h2v2h-2zM233 446h2v2h-2zM236 452h2v2h-2zM238 455h2v2h-2zM241 457h2v2h-2zM241 459h2v2h-2zM261 472h2v2h-2zM205 503h2v2h-2zM207 501h2v2h-2zM209 505h2v2h-2zM199 506h2v2h-2zM210 506h2v2h-2zM212 502h2v2h-2zM203 507h2v2h-2zM202 508h2v2h-2zM209 503h2v2h-2zM199 508h2v2h-2zM218 496h2v2h-2zM205 508h2v2h-2zM209 501h2v2h-2zM210 506h2v2h-2zM203 504h2v2h-2zM209 506h2v2h-2zM212 502h2v2h-2zM200 505h2v2h-2zM199 509h2v2h-2zM198 508h2v2h-2zM206 508h2v2h-2zM217 497h2v2h-2zM210 500h2v2h-2zM215 499h2v2h-2zM200 506h2v2h-2zM368 409h2v2h-2z"/>
<path fill="#d8d800" d="M246 165h2v2h-2zM222 331h1v1h-1zM247 377h2v2h-2zM192 503h2v2h-2zM188 500h1v1h-1zM175 513h2v2h-2zM189 513h2v2h-2zM270 513h2v2h-2zM271 516h1v1h-1zM280 513h2v2h-2zM280 516h2v2h-2zM282 513h2v2h-2zM282 516h2v2h-2zM284 513h2v2h-2zM284 516h2v2h-2z"/>
<path fill="#fff" d="M242 515h3v1h-3zM225 513h2v1h-2zM218 513h1v1h-1zM210 515h2v1h-2zM218 517h3v1h-3zM209 515h1v1h-1zM216 517h2v1h-2zM214 517h1v1h-1zM207 515h3v1h-3zM242 517h1v1h-1zM211 513h1v1h-1zM216 515h1v1h-1zM213 515h2v1h-2zM215 515h1v1h-1zM215 517h2v1h-2zM204 515h2v1h-2zM213 515h2v1h-2zM207 515h2v1h-2zM241 513h3v1h-3zM224 513h2v1h-2zM225 515h2v1h-2zM223 515h2v1h-2zM233 515h1v1h-1zM219 513h3v1h-3zM225 517h1v1h-1zM238 515h9v1h-9z"/>
</g>
<g fill="none" stroke-linejoin="round">
<polyline points="221.3,452 223.3,456.7 225.8,459.6 228.3,460.8 230.8,462 231.7,463.3 232,458.3 232.9,451.7 234.2,448.3 235.8,445 237.3,440 238.3,430 240.3,418.7 241.7,406.7 242.8,400 243.1,391.5 244.5,387.5 245.9,383.6 247,380.7 248.5,379.9 254.7,379.6 256.4,378.5 258.7,377.3 260.4,375.6 261.8,373.4 262.6,371.1 263.5,367.1 264.1,364.5" stroke="#ff0030" stroke-width="3" stroke-dasharray="5 1.2"/>
<polyline points="265.9,340 265.9,350 265.5,356 264.9,361 264.2,364" stroke="#ff4090" stroke-width="2"/>
<polyline points="265,365.5 266.5,364.5 268.8,363.4 270.7,361 271.5,356.3 272.3,352 272.7,348.5 273.1,343.6 275,343.5 275,332" stroke="#008000" stroke-width="2.5"/>
<polyline points="255,369.3 255.2,364 255.7,361.3 257.7,358.7 259.7,360 261.7,364 263.7,366.7" stroke="#80b868" stroke-width="2"/>
<polyline points="230.4,463.3 232.9,452.5 235.8,447.5 237.9,442.5 238.8,435.8 239.6,430 241,417.3 243,405 244.5,400 245.3,393.2 246.5,386.4 247.3,383 249,381 254.7,381.2 257,379.9 259.2,377.3 260.9,375.1 262.3,372.2 263.5,368.3 264.8,361 265.8,353 266.4,346" stroke="#000" stroke-width="1.2"/>
<polyline points="182,507.4 190,507.4 197.6,505.7 202.7,503.1 207.8,500.6 212,497.5" stroke="#000" stroke-width="1.2"/>
<polyline points="166,512.6 174,511.7 186.4,510.9 197.6,510 206,508.3 210,506 213,500 217.3,497.1 221.6,495 225.6,493.1 232.4,488.6 236,486 240.7,480.6 245.3,471.4 248.5,465.5 251,461 254,457.5 257.7,454.7 261.7,449.5 265.5,444 266.4,440 266.4,434" stroke="#000" stroke-width="1.2"/>
<polyline points="266.4,434 266,429 265,426 261.7,420 257.7,412 251,401.3 247,396 243.5,390 239,384 235.7,378.7 229,369.3 223.7,361.3 218.3,354 213,345.3 207.7,336 201.7,327.3 197,318.7 193,311.3 189.7,302.7 185,293.3 181.7,285.3 178.3,277.3 175,268 172.3,260 170.3,254.7 167.5,245 165.7,236.6" stroke="#000" stroke-width="1.3" stroke-dasharray="5 3"/>
</g>
<g shape-rendering="crispEdges">
<rect x="165" y="64" width="481" height="1" fill="#000"/>
<rect x="165" y="519" width="481" height="1" fill="#000"/>
<rect x="165" y="64" width="1" height="462" fill="#000"/>
<rect x="645" y="64" width="1" height="456" fill="#000"/>
<rect x="165" y="520" width="1" height="6" fill="#000"/>
<rect x="190" y="520" width="1" height="6" fill="#000"/>
<rect x="215" y="520" width="1" height="6" fill="#000"/>
<rect x="240" y="520" width="1" height="6" fill="#000"/>
<rect x="266" y="520" width="1" height="6" fill="#000"/>
<rect x="291" y="520" width="1" height="6" fill="#000"/>
<rect x="316" y="520" width="1" height="6" fill="#000"/>
<rect x="341" y="520" width="1" height="6" fill="#000"/>
<rect x="367" y="520" width="1" height="6" fill="#000"/>
<rect x="392" y="520" width="1" height="6" fill="#000"/>
<rect x="417" y="520" width="1" height="6" fill="#000"/>
<rect x="442" y="520" width="1" height="6" fill="#000"/>
<rect x="468" y="520" width="1" height="6" fill="#000"/>
<rect x="493" y="520" width="1" height="6" fill="#000"/>
<rect x="518" y="520" width="1" height="6" fill="#000"/>
<rect x="543" y="520" width="1" height="6" fill="#000"/>
<rect x="569" y="520" width="1" height="6" fill="#000"/>
<rect x="594" y="520" width="1" height="6" fill="#000"/>
<rect x="619" y="520" width="1" height="6" fill="#000"/>
<rect x="644" y="520" width="1" height="6" fill="#000"/>
<rect x="159" y="519" width="6" height="1" fill="#000"/>
<rect x="162" y="513" width="3" height="1" fill="#000"/>
<rect x="159" y="508" width="6" height="1" fill="#000"/>
<rect x="162" y="502" width="3" height="1" fill="#000"/>
<rect x="162" y="497" width="3" height="1" fill="#000"/>
<rect x="162" y="491" width="3" height="1" fill="#000"/>
<rect x="162" y="486" width="3" height="1" fill="#000"/>
<rect x="159" y="480" width="6" height="1" fill="#000"/>
<rect x="162" y="475" width="3" height="1" fill="#000"/>
<rect x="162" y="469" width="3" height="1" fill="#000"/>
<rect x="162" y="464" width="3" height="1" fill="#000"/>
<rect x="162" y="458" width="3" height="1" fill="#000"/>
<rect x="159" y="453" width="6" height="1" fill="#000"/>
<rect x="162" y="447" width="3" height="1" fill="#000"/>
<rect x="162" y="441" width="3" height="1" fill="#000"/>
<rect x="162" y="436" width="3" height="1" fill="#000"/>
<rect x="162" y="430" width="3" height="1" fill="#000"/>
<rect x="159" y="425" width="6" height="1" fill="#000"/>
<rect x="162" y="419" width="3" height="1" fill="#000"/>
<rect x="162" y="414" width="3" height="1" fill="#000"/>
<rect x="162" y="408" width="3" height="1" fill="#000"/>
<rect x="162" y="403" width="3" height="1" fill="#000"/>
<rect x="159" y="397" width="6" height="1" fill="#000"/>
<rect x="162" y="392" width="3" height="1" fill="#000"/>
<rect x="162" y="386" width="3" height="1" fill="#000"/>
<rect x="162" y="381" width="3" height="1" fill="#000"/>
<rect x="162" y="375" width="3" height="1" fill="#000"/>
<rect x="159" y="369" width="6" height="1" fill="#000"/>
<rect x="162" y="364" width="3" height="1" fill="#000"/>
<rect x="162" y="358" width="3" height="1" fill="#000"/>
<rect x="162" y="353" width="3" height="1" fill="#000"/>
<rect x="162" y="347" width="3" height="1" fill="#000"/>
<rect x="159" y="342" width="6" height="1" fill="#000"/>
<rect x="162" y="336" width="3" height="1" fill="#000"/>
<rect x="162" y="331" width="3" height="1" fill="#000"/>
<rect x="162" y="325" width="3" height="1" fill="#000"/>
<rect x="162" y="320" width="3" height="1" fill="#000"/>
<rect x="159" y="314" width="6" height="1" fill="#000"/>
<rect x="162" y="309" width="3" height="1" fill="#000"/>
<rect x="162" y="303" width="3" height="1" fill="#000"/>
<rect x="162" y="297" width="3" height="1" fill="#000"/>
<rect x="162" y="292" width="3" height="1" fill="#000"/>
<rect x="159" y="286" width="6" height="1" fill="#000"/>
<rect x="162" y="281" width="3" height="1" fill="#000"/>
<rect x="162" y="275" width="3" height="1" fill="#000"/>
<rect x="162" y="270" width="3" height="1" fill="#000"/>
<rect x="162" y="264" width="3" height="1" fill="#000"/>
<rect x="159" y="259" width="6" height="1" fill="#000"/>
<rect x="162" y="253" width="3" height="1" fill="#000"/>
<rect x="162" y="248" width="3" height="1" fill="#000"/>
<rect x="162" y="242" width="3" height="1" fill="#000"/>
<rect x="162" y="237" width="3" height="1" fill="#000"/>
<rect x="159" y="231" width="6" height="1" fill="#000"/>
<rect x="162" y="225" width="3" height="1" fill="#000"/>
<rect x="162" y="220" width="3" height="1" fill="#000"/>
<rect x="162" y="214" width="3" height="1" fill="#000"/>
<rect x="162" y="209" width="3" height="1" fill="#000"/>
<rect x="159" y="203" width="6" height="1" fill="#000"/>
<rect x="162" y="198" width="3" height="1" fill="#000"/>
<rect x="162" y="192" width="3" height="1" fill="#000"/>
<rect x="162" y="187" width="3" height="1" fill="#000"/>
<rect x="162" y="181" width="3" height="1" fill="#000"/>
<rect x="159" y="176" width="6" height="1" fill="#000"/>
<rect x="162" y="170" width="3" height="1" fill="#000"/>
<rect x="162" y="165" width="3" height="1" fill="#000"/>
<rect x="162" y="159" width="3" height="1" fill="#000"/>
<rect x="162" y="153" width="3" height="1" fill="#000"/>
<rect x="159" y="148" width="6" height="1" fill="#000"/>
<rect x="162" y="142" width="3" height="1" fill="#000"/>
<rect x="162" y="137" width="3" height="1" fill="#000"/>
<rect x="162" y="131" width="3" height="1" fill="#000"/>
<rect x="162" y="126" width="3" height="1" fill="#000"/>
<rect x="159" y="120" width="6" height="1" fill="#000"/>
<rect x="162" y="115" width="3" height="1" fill="#000"/>
<rect x="162" y="109" width="3" height="1" fill="#000"/>
<rect x="162" y="104" width="3" height="1" fill="#000"/>
<rect x="162" y="98" width="3" height="1" fill="#000"/>
<rect x="159" y="93" width="6" height="1" fill="#000"/>
<rect x="162" y="87" width="3" height="1" fill="#000"/>
<rect x="162" y="81" width="3" height="1" fill="#000"/>
<rect x="162" y="76" width="3" height="1" fill="#000"/>
<rect x="162" y="70" width="3" height="1" fill="#000"/>
<rect x="159" y="65" width="6" height="1" fill="#000"/>
</g>
<g class="ax">
<text x="165" y="542" text-anchor="middle">1</text>
<text x="190" y="542" text-anchor="middle">2</text>
<text x="215" y="542" text-anchor="middle">3</text>
<text x="240" y="542" text-anchor="middle">4</text>
<text x="266" y="542" text-anchor="middle">5</text>
<text x="291" y="542" text-anchor="middle">6</text>
<text x="316" y="542" text-anchor="middle">7</text>
<text x="341" y="542" text-anchor="middle">8</text>
<text x="367" y="542" text-anchor="middle">9</text>
<text x="392" y="542" text-anchor="middle">10</text>
<text x="417" y="542" text-anchor="middle">11</text>
<text x="442" y="542" text-anchor="middle">12</text>
<text x="468" y="542" text-anchor="middle">13</text>
<text x="493" y="542" text-anchor="middle">14</text>
<text x="518" y="542" text-anchor="middle">15</text>
<text x="543" y="542" text-anchor="middle">16</text>
<text x="569" y="542" text-anchor="middle">17</text>
<text x="594" y="542" text-anchor="middle">18</text>
<text x="619" y="542" text-anchor="middle">19</text>
<text x="644" y="542" text-anchor="middle">20</text>
<text x="155.5" y="71.2" text-anchor="end">900</text>
<text x="155.5" y="126.2" text-anchor="end">800</text>
<text x="155.5" y="182.2" text-anchor="end">700</text>
<text x="155.5" y="237.2" text-anchor="end">600</text>
<text x="155.5" y="292.2" text-anchor="end">500</text>
<text x="155.5" y="348.2" text-anchor="end">400</text>
<text x="155.5" y="403.2" text-anchor="end">300</text>
<text x="155.5" y="459.2" text-anchor="end">200</text>
<text x="155.5" y="525.2" text-anchor="end">80</text>
</g>
<g class="leg">
<rect x="651" y="64" width="43" height="18" fill="#888888"/>
<text x="652" y="78.7" textLength="34" lengthAdjust="spacingAndGlyphs">No Val</text>
<rect x="651" y="83" width="43" height="18" fill="#10dcfc"/>
<text x="652" y="97.7">NNE</text>
<rect x="651" y="102" width="43" height="18" fill="#40a8f8"/>
<text x="652" y="116.7">E</text>
<rect x="651" y="121" width="43" height="18" fill="#a000a0"/>
<text x="652" y="135.7">W</text>
<rect x="651" y="140" width="43" height="18" fill="#ff4090"/>
<text x="652" y="154.7">Vo-</text>
<rect x="651" y="159" width="43" height="18" fill="#ff0030"/>
<text x="652" y="173.7">Vo+</text>
<rect x="651" y="178" width="43" height="18" fill="#f8b4ac"/>
<text x="652" y="192.7">SSW</text>
<rect x="651" y="197" width="43" height="18" fill="#008000"/>
<text x="652" y="211.7">X-</text>
<rect x="651" y="216" width="43" height="18" fill="#80b868"/>
<text x="652" y="230.7">X+</text>
<rect x="651" y="235" width="43" height="18" fill="#d8d800"/>
<text x="652" y="249.7">SSE</text>
<rect x="651" y="254" width="43" height="18" fill="#2000e0"/>
<text x="652" y="268.7">NNW</text>
</g>
</svg>
</body></html>
